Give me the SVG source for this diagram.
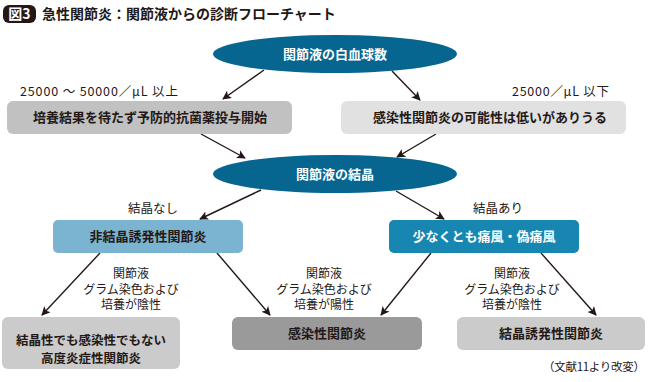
<svg xmlns="http://www.w3.org/2000/svg" width="648" height="382" viewBox="0 0 648 382">
<defs>
<marker id="ah" viewBox="0 0 10 10" refX="9" refY="5" markerWidth="9" markerHeight="9" markerUnits="userSpaceOnUse" orient="auto">
<path d="M0,0 L10,5 L0,10 L2.5,5 Z" fill="#231815"/>
</marker>
<style>
text{font-family:"Noto Sans CJK JP","Noto Sans",sans-serif;fill:#231815;}
.t{font-size:14px;font-weight:bold;}
.b{font-size:13px;font-weight:bold;text-anchor:middle;}
.b2{font-size:12.5px;font-weight:bold;text-anchor:middle;}
.w{fill:#ffffff;}
.l{font-size:12.5px;text-anchor:middle;}
.m{font-size:12px;text-anchor:middle;}
.c line{stroke:#231815;stroke-width:1.4;marker-end:url(#ah);}
</style>
</defs>
<rect width="648" height="382" fill="#ffffff"/>
<g id="title">
<rect x="3" y="5" width="33" height="18" rx="6" fill="#231815"/>
<text x="19.5" y="19" class="t w" text-anchor="middle">図3</text>
<text x="42" y="19" class="t">急性関節炎：関節液からの診断フローチャート</text>
</g>
<g class="c" id="connectors">
<line x1="264" y1="70" x2="223" y2="99"/>
<line x1="392" y1="71" x2="420" y2="100"/>
<line x1="201" y1="134" x2="245" y2="158"/>
<line x1="436" y1="134" x2="397" y2="157"/>
<line x1="261" y1="190" x2="200" y2="219"/>
<line x1="396" y1="191" x2="444" y2="219"/>
<line x1="100" y1="253" x2="42" y2="315"/>
<line x1="217" y1="253" x2="270" y2="315"/>
<line x1="431" y1="253" x2="381" y2="315"/>
<line x1="541" y1="253" x2="596" y2="315"/>
</g>
<g id="wbc">
<ellipse cx="335" cy="54" rx="122" ry="19" fill="#07668f"/>
<text x="335" y="58.5" class="b w">関節液の白血球数</text>
</g>
<g id="label-high">
<text x="20" y="96" font-size="12.5" textLength="158" lengthAdjust="spacing">25000 ～ 50000／μL 以上</text>
</g>
<g id="label-low">
<text x="512" y="96" font-size="12.5" textLength="97" lengthAdjust="spacing">25000／μL 以下</text>
</g>
<g id="prophylaxis">
<rect x="7" y="101" width="285" height="33" rx="6" fill="#c1c1c1"/>
<text x="150" y="122" class="b">培養結果を待たず予防的抗菌薬投与開始</text>
</g>
<g id="low-possibility">
<rect x="341" y="101" width="285" height="33" rx="6" fill="#e1e1e1"/>
<text x="490" y="122" class="b">感染性関節炎の可能性は低いがありうる</text>
</g>
<g id="crystal">
<ellipse cx="335" cy="174" rx="122" ry="19" fill="#07668f"/>
<text x="335" y="178.5" class="b w">関節液の結晶</text>
</g>
<g id="label-nocrystal">
<text x="153" y="213" class="l">結晶なし</text>
</g>
<g id="label-crystal">
<text x="498" y="213" class="l">結晶あり</text>
</g>
<g id="noncrystal">
<rect x="53" y="220" width="190" height="33" rx="5" fill="#7bb4d1"/>
<text x="148" y="241" class="b">非結晶誘発性関節炎</text>
</g>
<g id="gout">
<rect x="389" y="220" width="190" height="33" rx="5" fill="#1787b1"/>
<text x="484" y="241" class="b w">少なくとも痛風・偽痛風</text>
</g>
<g id="label-neg1">
<text class="m"><tspan x="131" y="278">関節液</tspan><tspan x="131" y="293.5">グラム染色および</tspan><tspan x="131" y="309">培養が陰性</tspan></text>
</g>
<g id="label-pos">
<text class="m"><tspan x="324" y="278">関節液</tspan><tspan x="324" y="293.5">グラム染色および</tspan><tspan x="324" y="309">培養が陽性</tspan></text>
</g>
<g id="label-neg2">
<text class="m"><tspan x="512" y="278">関節液</tspan><tspan x="512" y="293.5">グラム染色および</tspan><tspan x="512" y="309">培養が陰性</tspan></text>
</g>
<g id="inflammatory">
<rect x="2" y="317" width="178" height="52" rx="6" fill="#cbcbcb"/>
<text class="b2"><tspan x="91" y="345">結晶性でも感染性でもない</tspan><tspan x="91" y="363">高度炎症性関節炎</tspan></text>
</g>
<g id="infectious">
<rect x="232" y="317" width="190" height="33" rx="6" fill="#9a9a9a"/>
<text x="327" y="338" class="b">感染性関節炎</text>
</g>
<g id="crystal-induced">
<rect x="457" y="317" width="188" height="33" rx="6" fill="#cbcbcb"/>
<text x="551" y="338" class="b">結晶誘発性関節炎</text>
</g>
<g id="source">
<text x="543" y="371" font-size="11.5" textLength="102" lengthAdjust="spacing">（文献11より改変）</text>
</g>
</svg>
